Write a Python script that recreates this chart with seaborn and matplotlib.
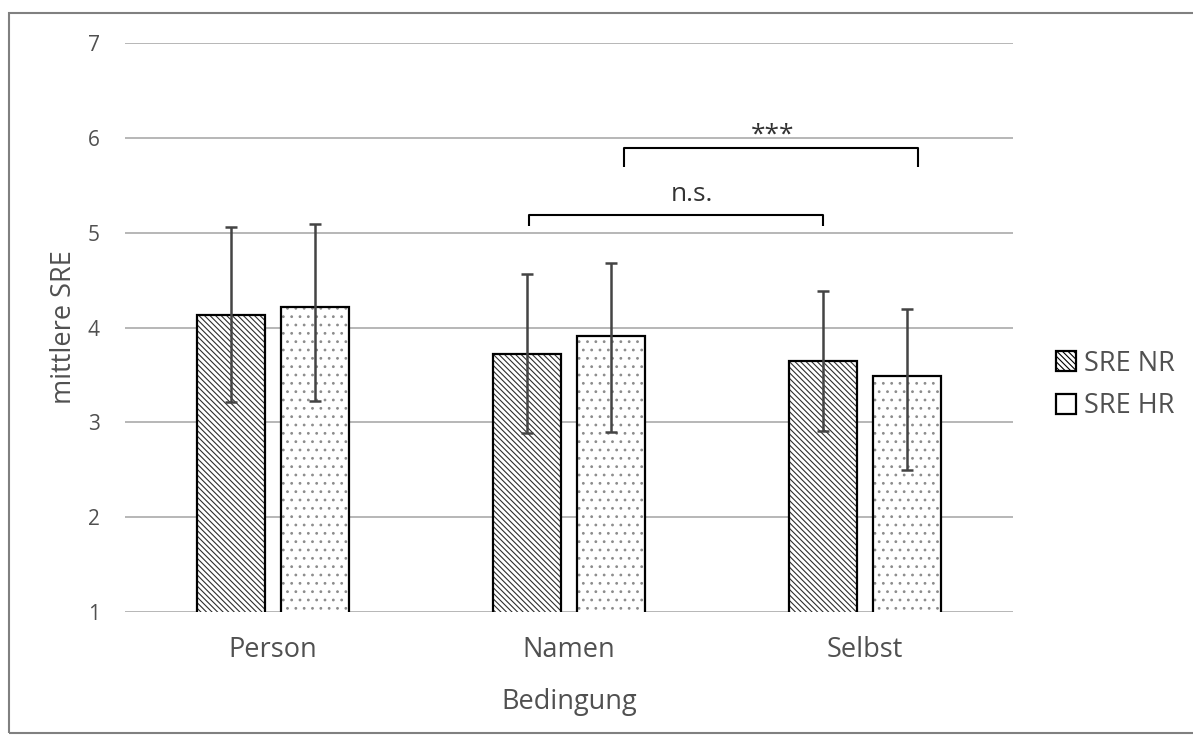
import matplotlib.pyplot as plt
import matplotlib.patches as mpatches
import numpy as np
import pandas as pd
import seaborn as sns

# %% data
conditions = ["Person", "Namen", "Selbst"]
series = ["SRE NR", "SRE HR"]
sre_nr = [4.13, 3.72, 3.65]
sre_hr = [4.22, 3.91, 3.49]
nr_upper = [5.06, 4.56, 4.39]
nr_lower = [3.21, 2.89, 2.91]
hr_upper = [5.09, 4.68, 4.20]
hr_lower = [3.22, 2.90, 2.50]

df = pd.DataFrame({
    "Bedingung": conditions * 2,
    "Messung": [series[0]] * 3 + [series[1]] * 3,
    "SRE": sre_nr + sre_hr,
})

# %% style
sns.set_theme(style="white")
plt.rcParams["font.family"] = ["Open Sans", "DejaVu Sans"]
plt.rcParams["hatch.linewidth"] = 0.8
txt = "#505050"
grid = "#b7b7b7"

fig = plt.figure(figsize=(11.93, 7.44), dpi=100)
ax = fig.add_axes([125 / 1193, 1 - 612 / 744, 888 / 1193, 569 / 744])

sns.barplot(data=df, x="Bedingung", y="SRE", hue="Messung", order=conditions,
            hue_order=series, palette=["white", "white"], width=0.57, gap=0.2,
            errorbar=None, edgecolor="#555555", linewidth=0, legend=False, ax=ax,
            zorder=3)

diag = "\\" * 6
hatches = [diag, ".."]
hatch_cols = ["#2e2e2e", "#8c8c8c"]
for cont, h, hc in zip(ax.containers, hatches, hatch_cols):
    for p in cont:
        p.set_hatch(h)
        p.set_edgecolor(hc)
        outline = mpatches.Rectangle((p.get_x(), p.get_y()), p.get_width(), p.get_height(),
                                     fill=False, edgecolor="black", linewidth=1.6, zorder=4)
        ax.add_patch(outline)

# error bars
for cont, means, lo, hi in zip(ax.containers, [sre_nr, sre_hr], [nr_lower, hr_lower], [nr_upper, hr_upper]):
    xs = [p.get_x() + p.get_width() / 2 for p in cont]
    m = np.array(means)
    yerr = [m - np.array(lo), np.array(hi) - m]
    ax.errorbar(xs, m, yerr=yerr, fmt="none", ecolor="#444444", elinewidth=1.8,
                capsize=4.4, capthick=1.8, zorder=5)

# axes
ax.set_ylim(1, 7)
ax.set_xlim(-0.5, 2.5)
ax.set_yticks(range(1, 8))
ax.yaxis.grid(True, color=grid, linewidth=1.4)
ax.set_axisbelow(True)
for s in ax.spines.values():
    s.set_visible(False)
ax.tick_params(axis="y", length=0, pad=18, labelsize=15, labelcolor=txt)
ax.tick_params(axis="x", length=0, pad=17, labelsize=19.5, labelcolor=txt)
ax.set_xlabel("Bedingung", fontsize=19.5, color=txt, va="center")
ax.xaxis.set_label_coords(0.5, -0.158)
ax.set_ylabel("mittlere SRE", fontsize=19.5, color=txt, va="center")
ax.yaxis.set_label_coords(-0.0687, 0.5)

# significance brackets
ax.plot([0.865, 0.865, 1.858, 1.858], [5.07, 5.185, 5.185, 5.07], color="black",
        linewidth=1.5, zorder=6, solid_capstyle="butt")
ax.text(1.415, 5.33, "n.s.", ha="center", va="baseline", fontsize=19, color="#333333")
ax.plot([1.186, 1.186, 2.179, 2.179], [5.69, 5.89, 5.89, 5.69], color="black",
        linewidth=1.5, zorder=6, solid_capstyle="butt")
ax.text(1.689, 5.96, "***", ha="center", va="baseline", fontsize=19, color="#333333")

# legend
handles = [mpatches.Patch(facecolor="white", edgecolor="black", hatch=h, linewidth=1.6)
           for h in [diag, ""]]
leg = fig.legend(handles, series, loc="center left", bbox_to_anchor=(1056 / 1193, 1 - 385 / 744),
                 frameon=False, fontsize=19.5, handlelength=0.72, handleheight=0.72,
                 handletextpad=0.3, labelspacing=0.55, borderpad=0, borderaxespad=0)
for t in leg.get_texts():
    t.set_color(txt)

# outer frame
fig.patches.append(mpatches.Rectangle((9 / 1193, 1 - 733 / 744), 1190 / 1193, 720 / 744,
                                      transform=fig.transFigure, fill=False,
                                      edgecolor="#808080", linewidth=1.5))

fig.savefig("out.png", dpi=100)
